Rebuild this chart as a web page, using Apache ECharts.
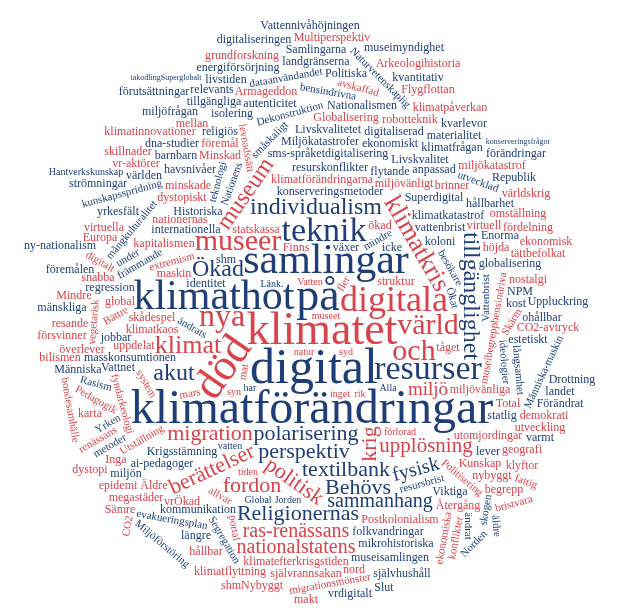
<!DOCTYPE html>
<html>
<head>
<meta charset="utf-8">
<script src="https://cdn.jsdelivr.net/npm/echarts/dist/echarts.min.js"></script>
<style>
html,body{margin:0;padding:0;background:#fff;}
#chart{width:622px;height:610px;}
</style>
</head>
<body>
<div id="chart"></div>
<script>
// ---------------- data ----------------
// large words (font px), tone b = blue, r = red, angle in degrees (ccw positive)
const bigWords  = ['klimatförändringar','digital','klimatet','på','samlingar','klimathot','död','digitala','resurser','teknik','nya','och','värld','museer','klimat','klimatkris','individualism','tillgänglighet','Ökad','akut','museum','polarisering','perspektiv','krig','politisk','textilbank','Behövs','Religionernas','migration','fordon','berättelser','upplösning','sammanhang','fysisk','ras-renässans','nationalstatens','miljö'];
const bigSizes  = [48,50,46,46,42,42,44,36,34,34,32,30,30,30,26,26,24,24,24,24,24,22,22,22,22,22,22,22,22,22,22,21,20,20,20,20,19];
const bigTones  = ['b','b','r','b','b','b','r','r','b','b','r','r','r','r','r','r','b','b','b','b','r','b','b','r','r','b','b','b','r','r','r','r','b','b','r','r','r'];
const bigAngles = [0,0,0,0,0,0,55,0,0,0,0,0,0,0,0,-60,0,-90,0,0,55,0,0,90,-35,0,0,0,0,0,25,0,0,15,0,0,0];

// tiny horizontal words that sit between the big ones
const tinyWords = ['inget','museet','förlorad','natur','syd','har','Alla','rik','Vatten','syn','vatten','Jorden','Länk.','Global','tiden'];
const tinyTones = ['r','r','r','r','r','b','b','r','r','r','b','b','b','b','r'];

// medium horizontal words
const midBlue = ['Krigsstämning','folkvandringar','kommunikation','konserveringsmetoder','mikrohistoriska','ai-pedagoger','museisamlingen','resurskonflikter','sms-språketdigitalisering','internationella','Viktiga','masskonsumtionen','längre','Historiska','identitet','koloni','självhushåll','vattenbrist','Miljökatastrofer','klimatkatastrof','vrdigitalt','Superdigital','icke','flytande','lever','Livskvalitetet','statlig','ekonomiskt','miljön','Livskvalitet','havsnivåer','digitaliserad','jobbar','Vattnet','anpassad','Nationalismen','globalisering','shm','regression','Slut','autenticitet','religiös','estetiskt','isolering','barnbarn','kost','klimatfrågan','hållbarhet','Enorma','NPM','dna-studier','tillgängliga','Människa','materialitet','världen','landgränserna','yrkesfält','ohållbar','Politiska','energiförsörjning','varmt','växer','Förändrat','relevants','miljöfrågan','Uppluckring','livstiden','landet','Samlingarna','kvarlevor','kvantitativ','mänskliga','Republik','föremålen','Drottning','digitaliseringen','strömningar','Vattennivåhöjningen','museimyndighet','förutsättningar','förändringar','takodlingSuperglobalt','ny-nationalism','Hantverkskunskap','konserveringsfrågor'];
const midRed = ['Postkolonialism','struktur','klimatefterkrisgstiden','statskassa','klimatförändringarna','självrannsakan','miljövänliga','utomjordingar','klimatkaos','klimatflyttning','Återgång','skådespel','Kunskap','shmNybyggt','vrÖkad','miljövänligt','hållbar','Äldre','kapitalismen','uppdelat','tåget','ökad','nybyggt','maskin','megastäder','dystopiskt','minskade','nationernas','Minskad','Total','begrepp','global','epidemi','Globalisering','föremål','geografi','Inga','makt','brinner','klyftor','virtuell','Sämre','höjda','robotteknik','utveckling','Armageddon','Finns','demokrati','karta','överlever','dystopi','CO2-avtryck','nostalgi','snabba','mellan','miljökatastrof','nord','omställning','virtuella','klimatinnovationer','klimatpåverkan','vr-aktörer','tättbefolkat','Europa','fördelning','resande','försvinner','Mindre','Flygflottan','grundforskning','bilismen','skillnader','Multiperspektiv','Arkeologihistoria','världskrig','ekonomisk'];

// small rotated words
const rotWords  = ['allvar','ändrats','resursbrist','Segregation','Politisering','mars','migrationsmönster','evakueringsplan','mindre','Utställning','extremism','mat','fler','Nationens','system','museibegreppbensindriva','fyndarkeologi','ekonomiska','teknologi','portal','besökare','konflikter','Vattenbrist','ideologier','levnadssätt','Miljöförstöring','ändrat','främmande','småskaligt','Dekonstruktion','metoder','skogen','Yrken','Ökat','långsamhet','mångkulturalitet','Bättre','Pedagogik','Skärm','Norden','under','bensindrivna','Rasism','renässans','bristvara','dataanvändandet','kunskapsspridning','Människa-maskin','äldre','utvecklad','Naturvetenskaplig','fattig','avskaffad','vegetarisk','bondesamhälle','digitalt','CO2'];
const rotTones  = ['r','b','b','b','r','r','r','b','b','r','r','r','r','b','r','r','r','r','b','r','b','r','b','b','r','b','b','b','b','b','b','b','b','b','b','b','r','r','r','b','b','b','b','r','r','b','b','b','b','b','b','r','r','r','r','r','r'];
const rotAngles = [-30,-30,15,-60,-40,10,10,-10,30,30,15,80,60,70,-60,80,-75,80,75,-80,-60,80,90,-85,-80,-40,-90,30,45,15,30,80,30,-75,-85,50,30,-30,60,45,30,-10,-15,30,15,10,15,65,-85,-20,-45,-20,-15,85,-80,-30,80];

const MID_SIZE = 12, ROT_SIZE = 11, TINY_SIZE = 10;
const COLORS = { b: '#1f3e78', r: '#d9434b' };
const FONT = '"Liberation Serif", "DejaVu Serif", serif';

// ---------------- build word list ----------------
const items = [];
bigWords.forEach((w, i) => items.push({ text: w, size: bigSizes[i], tone: bigTones[i], angle: bigAngles[i] }));
tinyWords.forEach((w, i) => items.push({ text: w, size: TINY_SIZE, tone: tinyTones[i], angle: 0 }));
const n = Math.max(midBlue.length, midRed.length, rotWords.length);
for (let i = 0; i < n; i++) {
  if (i < midBlue.length) items.push({ text: midBlue[i], size: MID_SIZE, tone: 'b', angle: 0 });
  if (i < midRed.length) items.push({ text: midRed[i], size: MID_SIZE, tone: 'r', angle: 0 });
  if (i < rotWords.length) items.push({ text: rotWords[i], size: ROT_SIZE, tone: rotTones[i], angle: rotAngles[i] });
}

// ---------------- layout (pixel mask spiral inside a circle) ----------------
const W = 622, H = 610, G = 2;
const cols = Math.ceil(W / G), rows = Math.ceil(H / G);
const CX = 311, CY = 306, RAD = 298;      // circular outline of the cloud
const OX = 312, OY = 410;                 // spiral origin
const UP = 1.4;                           // spiral stretched upwards
const STACK = 23;                         // words this large grow upwards only
const occ = new Uint8Array(cols * rows);
for (let y = 0; y < rows; y++) for (let x = 0; x < cols; x++) {
  const px = x * G + G / 2, py = y * G + G / 2;
  if ((px - CX) * (px - CX) + (py - CY) * (py - CY) > RAD * RAD) occ[y * cols + x] = 1;
}
const work = document.createElement('canvas');
const wctx = work.getContext('2d', { willReadFrequently: true });

function maskOf(text, size, angle) {
  const font = size + 'px ' + FONT;
  wctx.font = font;
  const w = wctx.measureText(text).width;
  const h = size * 1.2;
  const a = angle * Math.PI / 180;
  const bw = Math.abs(w * Math.cos(a)) + Math.abs(h * Math.sin(a));
  const bh = Math.abs(w * Math.sin(a)) + Math.abs(h * Math.cos(a));
  const hw = Math.ceil(bw / 2 / G) + 2, hh = Math.ceil(bh / 2 / G) + 2;
  const cw = hw * 2 * G, ch = hh * 2 * G;
  work.width = cw; work.height = ch;
  wctx.font = font;
  wctx.fillStyle = '#000'; wctx.strokeStyle = '#000';
  wctx.textAlign = 'center'; wctx.textBaseline = 'middle';
  wctx.translate(cw / 2, ch / 2);
  wctx.rotate(-a);
  wctx.fillText(text, 0, 0);
  wctx.lineWidth = 1.6;
  wctx.strokeText(text, 0, 0);
  const d = wctx.getImageData(0, 0, cw, ch).data;
  const cells = [];
  for (let cy = 0; cy < hh * 2; cy++) for (let cx = 0; cx < hw * 2; cx++) {
    let hit = false;
    for (let yy = 0; yy < G && !hit; yy++) for (let xx = 0; xx < G; xx++) {
      const p = ((cy * G + yy) * cw + (cx * G + xx)) * 4 + 3;
      if (d[p] > 20) { hit = true; break; }
    }
    if (hit) cells.push(cx - hw, cy - hh);
  }
  return cells;
}
function fits(cells, gx, gy) {
  for (let k = 0; k < cells.length; k += 2) {
    const x = gx + cells[k], y = gy + cells[k + 1];
    if (x < 0 || y < 0 || x >= cols || y >= rows) return false;
    if (occ[y * cols + x]) return false;
  }
  return true;
}
function put(cells, gx, gy) {
  for (let k = 0; k < cells.length; k += 2) occ[(gy + cells[k + 1]) * cols + gx + cells[k]] = 1;
}
const placed = [];
const gcx = Math.round(OX / G), gcy = Math.round(OY / G);
function tryPlace(it, idx, size) {
  const cells = maskOf(it.text, size, it.angle);
  const start = idx * 2.39996;
  const upOnly = it.size >= STACK;
  for (let r = 0; r < 220; r += 0.5) {
    const m = r === 0 ? 1 : Math.ceil(2 * Math.PI * r * 1.3);
    for (let k = 0; k < m; k++) {
      const t = start + (k / m) * 2 * Math.PI;
      const s = Math.sin(t);
      if (upOnly && s < 0) continue;
      const gx = gcx + Math.round(r * Math.cos(t));
      const gy = gcy - Math.round(r * s * (s > 0 ? UP : 1));
      if (fits(cells, gx, gy)) { put(cells, gx, gy); return [gx * G, gy * G]; }
    }
  }
  return null;
}
items.forEach((it, idx) => {
  for (let s = it.size; s >= Math.min(it.size, 8); s--) {
    const p = tryPlace(it, idx, s);
    if (p) { it.size = s; placed.push([p[0], p[1], idx]); return; }
  }
});

// ---------------- chart ----------------
const chart = echarts.init(document.getElementById('chart'), null, { renderer: 'canvas' });
chart.setOption({
  animation: false,
  backgroundColor: '#ffffff',
  grid: { left: 0, right: 0, top: 0, bottom: 0 },
  xAxis: { type: 'value', min: 0, max: W, show: false },
  yAxis: { type: 'value', min: 0, max: H, inverse: true, show: false },
  series: [{
    type: 'custom',
    coordinateSystem: 'cartesian2d',
    clip: false,
    data: placed,
    renderItem: function (params, api) {
      const it = items[api.value(2)];
      const p = api.coord([api.value(0), api.value(1)]);
      return {
        type: 'text',
        x: p[0], y: p[1],
        rotation: it.angle * Math.PI / 180,
        style: {
          text: it.text,
          font: it.size + 'px ' + FONT,
          fill: COLORS[it.tone],
          align: 'center',
          verticalAlign: 'middle'
        }
      };
    }
  }]
});
</script>
</body>
</html>
